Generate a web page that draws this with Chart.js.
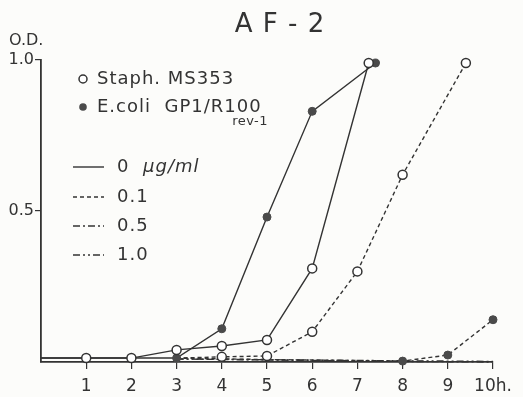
<!DOCTYPE html>
<html>
<head>
<meta charset="utf-8">
<title>AF-2</title>
<script src="https://cdn.jsdelivr.net/npm/chart.js@4/dist/chart.umd.min.js"></script>
<style>
  html, body { margin: 0; padding: 0; background: #fcfcfa; }
  #chart { display: block; }
</style>
</head>
<body>
<canvas id="chart" width="523" height="397"></canvas>
<script>
// 値
const xTicks = [1, 2, 3, 4, 5, 6, 7, 8, 9, 10];
const yTicks = [0.5, 1.0];

// 0 µg/ml
const ecoli0Hours  = [0, 1, 2, 3, 4, 5, 6, 7.4];
const ecoli0Values = [0.013, 0.013, 0.013, 0.013, 0.11, 0.48, 0.83, 0.99];
const staph0Hours  = [0, 1, 2, 3, 4, 5, 6, 7.25];
const staph0Values = [0.013, 0.013, 0.013, 0.04, 0.053, 0.073, 0.31, 0.99];

// 0.1 µg/ml
const staph01Hours  = [3, 4, 5, 6, 7, 8, 9.4];
const staph01Values = [0.013, 0.017, 0.02, 0.10, 0.30, 0.62, 0.99];
const ecoli01Hours  = [3, 5, 8, 9, 10];
const ecoli01Values = [0.013, 0.008, 0.003, 0.023, 0.14];

// 0.5 / 1.0 µg/ml
const ecoli05Hours  = [3, 8, 10];
const ecoli05Values = [0.01, 0.002, 0.0];
const ecoli10Hours  = [3, 8, 10];
const ecoli10Values = [0.01, 0.004, 0.002];

const ink = '#333333';
const paper = '#fcfcfa';
const fontName = '"DejaVu Sans", sans-serif';

function zip(hours, values) {
    return hours.map((h, i) => ({ x: h, y: values[i] }));
}

// 系列ごとのスタイル
function openSeries(label, hours, values, dash, hideFirst) {
    return {
        label: label,
        data: zip(hours, values),
        borderColor: ink,
        borderWidth: 1.4,
        borderDash: dash,
        backgroundColor: '#ffffff',
        pointBorderColor: ink,
        pointBorderWidth: 1.5,
        pointRadius: hours.map((h, i) => (h === 0 || (hideFirst && i === 0)) ? 0 : 4.5),
        tension: 0,
        clip: false
    };
}

function filledSeries(label, hours, values, dash, hidden) {
    return {
        label: label,
        data: zip(hours, values),
        borderColor: ink,
        borderWidth: 1.4,
        borderDash: dash,
        backgroundColor: '#4a4a4a',
        pointBorderColor: '#4a4a4a',
        pointBorderWidth: 1,
        pointRadius: hours.map((h, i) => (h === 0 || hidden.includes(i)) ? 0 : 4),
        tension: 0,
        clip: false
    };
}

// 背景・タイトル・凡例を描く
const decorations = {
    id: 'decorations',
    beforeDraw(chart) {
        const ctx = chart.ctx;
        ctx.save();
        ctx.fillStyle = paper;
        ctx.fillRect(0, 0, chart.width, chart.height);
        ctx.restore();
    },
    afterDraw(chart) {
        const ctx = chart.ctx;
        ctx.save();
        ctx.fillStyle = ink;
        ctx.strokeStyle = ink;
        ctx.textBaseline = 'middle';

        // タイトル
        ctx.font = '26px ' + fontName;
        ctx.textAlign = 'center';
        ctx.letterSpacing = '1px';
        ctx.fillText('A F - 2', 280, 25);

        // 縦軸の単位
        ctx.font = '16px ' + fontName;
        ctx.textAlign = 'left';
        ctx.letterSpacing = '0px';
        ctx.fillText('O.D.', 9, 41);

        // 菌株の凡例
        ctx.font = '18px ' + fontName;
        ctx.letterSpacing = '1px';
        ctx.lineWidth = 1.5;
        ctx.beginPath();
        ctx.arc(83, 79, 4, 0, Math.PI * 2);
        ctx.fillStyle = '#ffffff';
        ctx.fill();
        ctx.stroke();
        ctx.fillStyle = ink;
        ctx.fillText('Staph. MS353', 97, 79);

        ctx.beginPath();
        ctx.arc(83, 107, 3.8, 0, Math.PI * 2);
        ctx.fillStyle = '#4a4a4a';
        ctx.fill();
        ctx.fillStyle = ink;
        ctx.fillText('E.coli  GP1/R100', 97, 107);

        ctx.font = '13px ' + fontName;
        ctx.letterSpacing = '0.5px';
        ctx.textAlign = 'right';
        ctx.fillText('rev-1', 268, 122);

        // 濃度の凡例
        const doses = [
            { label: '0', dash: [], y: 167 },
            { label: '0.1', dash: [4, 3], y: 197 },
            { label: '0.5', dash: [7, 3, 2, 3], y: 226 },
            { label: '1.0', dash: [7, 3, 2, 3, 2, 3], y: 255 }
        ];
        ctx.textAlign = 'left';
        ctx.font = '18px ' + fontName;
        ctx.letterSpacing = '1px';
        doses.forEach(d => {
            ctx.setLineDash(d.dash);
            ctx.lineWidth = 1.4;
            ctx.beginPath();
            ctx.moveTo(73, d.y);
            ctx.lineTo(104, d.y);
            ctx.stroke();
            ctx.fillText(d.label, 117, d.y);
        });
        ctx.setLineDash([]);
        ctx.font = 'italic 18px ' + fontName;
        ctx.fillText('\u03bcg/ml', 143, 167);
        ctx.restore();
    }
};

new Chart(document.getElementById('chart'), {
    type: 'line',
    data: {
        datasets: [
            openSeries('Staph. MS353 0', staph0Hours, staph0Values, [], false),
            filledSeries('E.coli 0', ecoli0Hours, ecoli0Values, [], []),
            openSeries('Staph. MS353 0.1', staph01Hours, staph01Values, [4, 3], true),
            filledSeries('E.coli 0.1', ecoli01Hours, ecoli01Values, [4, 3], [0, 1]),
            filledSeries('E.coli 0.5', ecoli05Hours, ecoli05Values, [7, 3, 2, 3], [0, 1, 2]),
            filledSeries('E.coli 1.0', ecoli10Hours, ecoli10Values, [7, 3, 2, 3, 2, 3], [0, 1, 2])
        ]
    },
    options: {
        responsive: false,
        animation: false,
        layout: { padding: { top: 60, right: 30, left: 0, bottom: 0 } },
        plugins: {
            legend: { display: false },
            tooltip: { enabled: false }
        },
        scales: {
            x: {
                type: 'linear',
                min: 0,
                max: 10,
                afterBuildTicks(scale) {
                    scale.ticks = xTicks.map(v => ({ value: v }));
                },
                afterFit(scale) {
                    scale.height = 35;
                },
                ticks: {
                    color: ink,
                    font: { family: fontName, size: 17 },
                    padding: 7,
                    maxRotation: 0,
                    callback: v => v === 10 ? '10h.' : String(v)
                },
                grid: {
                    drawOnChartArea: false,
                    drawTicks: true,
                    tickLength: 7,
                    color: ink,
                    lineWidth: 1.2
                },
                border: { display: true, color: ink, width: 1.8 }
            },
            y: {
                type: 'linear',
                min: 0,
                max: 1.0,
                afterBuildTicks(scale) {
                    scale.ticks = yTicks.map(v => ({ value: v }));
                },
                afterFit(scale) {
                    scale.width = 41;
                },
                ticks: {
                    color: ink,
                    font: { family: fontName, size: 16 },
                    padding: 1,
                    callback: v => v.toFixed(1)
                },
                grid: {
                    drawOnChartArea: false,
                    drawTicks: true,
                    tickLength: 6,
                    color: ink,
                    lineWidth: 1.2
                },
                border: { display: true, color: ink, width: 1.8 }
            }
        }
    },
    plugins: [decorations]
});
</script>
</body>
</html>
